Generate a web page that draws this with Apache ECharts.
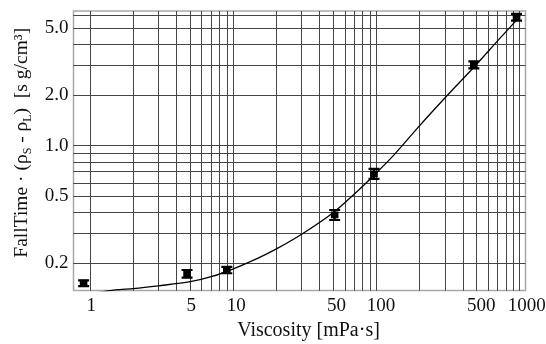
<!DOCTYPE html>
<html>
<head>
<meta charset="utf-8">
<script src="https://cdn.jsdelivr.net/npm/echarts@6/dist/echarts.min.js"></script>
<style>
html,body{margin:0;padding:0;background:#fff;}
#chart{width:546px;height:344px;}
</style>
</head>
<body>
<div id="chart"></div>
<script>
// Measured data (viscosity in mPa·s, fall time · density difference in s g/cm³)
const viscosity = [0.9, 4.75, 9.0, 51, 96, 478, 950];
const fallTime  = [0.152, 0.1726, 0.182, 0.387, 0.679, 3.02, 5.8];
const errLow    = [0.146, 0.164, 0.174, 0.361, 0.634, 2.88, 5.54];
const errHigh   = [0.158, 0.182, 0.190, 0.414, 0.727, 3.17, 6.07];

// Fitted curve
const fitX = [1.0, 1.5, 2, 3, 5, 7, 10, 15, 20, 30, 50, 70, 100, 134, 200, 300, 500, 700, 1000];
const fitY = [0.131, 0.1385, 0.141, 0.1465, 0.155, 0.166, 0.185, 0.215, 0.243, 0.297, 0.40, 0.515, 0.69, 0.89, 1.315, 1.92, 3.05, 4.2, 5.85];

// Axis ticks / grid
const xGridValues = [1,2,3,4,5,6,7,8,9,10,20,30,40,50,60,70,80,90,100,200,300,400,500,600,700,800,900,1000];
const xLabelValues = [1, 5, 10, 50, 100, 500, 1000];
const yGridValues = [0.2,0.3,0.4,0.5,0.6,0.7,0.8,0.9,1,2,3,4,5,6];
const yLabelValues = [0.2, 0.5, 1, 2, 5];

const FONT = '"Liberation Serif", "DejaVu Serif", serif';

const chart = echarts.init(document.getElementById('chart'), null, {renderer: 'canvas'});

const errData = viscosity.map((v, i) => [v, fallTime[i], errLow[i], errHigh[i]]);
const fitData = fitX.map((v, i) => [v, fitY[i]]);

const labStyle = {fontFamily: FONT, fontSize: 19, color: '#111'};

chart.setOption({
  animation: false,
  backgroundColor: '#fff',
  grid: {
    left: 73.5, right: 20.5, top: 11, bottom: 53.5,
    containLabel: false,
    outerBoundsMode: 'none',
    show: true,
    borderColor: '#a8a8a8',
    borderWidth: 1.5,
    backgroundColor: 'transparent'
  },
  xAxis: {
    type: 'log',
    logBase: 10,
    min: 0.765,
    max: 1097,
    name: 'Viscosity [mPa·s]',
    nameLocation: 'middle',
    nameGap: 27,
    nameTextStyle: {fontFamily: FONT, fontSize: 20, color: '#111', padding: [0, 0, 0, 18], verticalAlign: 'top'},
    axisLine: {show: false},
    axisTick: {show: true, inside: true, length: 4, customValues: xGridValues, lineStyle: {color: '#444'}},
    axisLabel: {
      customValues: xLabelValues,
      fontFamily: FONT, fontSize: 19, color: '#111', margin: 6,
      formatter: v => {
        const s = String(Math.round(v));
        return '{w' + s.length + '|' + s + '}';
      },
      rich: {
        w1: Object.assign({padding: [0, 0, 0, 2]}, labStyle),
        w2: Object.assign({padding: [0, 0, 0, 6]}, labStyle),
        w3: Object.assign({padding: [0, 0, 0, 9]}, labStyle),
        w4: Object.assign({padding: [0, 0, 0, 14]}, labStyle)
      }
    },
    splitLine: {show: true, lineStyle: {color: '#454545', width: 1}},
    minorTick: {show: false},
    minorSplitLine: {show: false}
  },
  yAxis: {
    type: 'log',
    logBase: 10,
    min: 0.1374,
    max: 6.32,
    name: '{a|FallTime · (ρ}{sub|S}{a| - ρ}{sub|L}{a|)  [s g/cm³]}',
    nameLocation: 'middle',
    nameRotate: 90,
    nameGap: 40,
    nameTextStyle: {
      fontFamily: FONT, fontSize: 19.5, color: '#111',
      padding: [0, 0, 0, 16],
      rich: {
        a: {fontFamily: FONT, fontSize: 19.5, color: '#111', lineHeight: 23},
        sub: {fontFamily: FONT, fontSize: 12, color: '#111', lineHeight: 10, verticalAlign: 'bottom'}
      }
    },
    axisLine: {show: false},
    axisTick: {show: true, inside: true, length: 4, customValues: yGridValues, lineStyle: {color: '#444'}},
    axisLabel: {
      customValues: yLabelValues,
      fontFamily: FONT, fontSize: 19, color: '#111', margin: 5,
      formatter: v => Number(v).toFixed(1)
    },
    splitLine: {show: true, lineStyle: {color: '#454545', width: 1}}
  },
  series: [
    {
      type: 'line',
      data: fitData,
      smooth: 0.3,
      showSymbol: false,
      symbol: 'none',
      clip: true,
      lineStyle: {color: '#000', width: 1.3},
      z: 3
    },
    {
      type: 'custom',
      data: errData,
      clip: true,
      z: 4,
      renderItem: function (params, api) {
        const x = api.value(0);
        const p = api.coord([x, api.value(1)]);
        const pl = api.coord([x, api.value(2)]);
        const ph = api.coord([x, api.value(3)]);
        const cap = 5.5;
        const st = {stroke: '#000', lineWidth: 2.2};
        return {
          type: 'group',
          children: [
            {type: 'line', shape: {x1: p[0], y1: pl[1], x2: p[0], y2: ph[1]}, style: st},
            {type: 'line', shape: {x1: p[0] - cap, y1: pl[1], x2: p[0] + cap, y2: pl[1]}, style: st},
            {type: 'line', shape: {x1: p[0] - cap, y1: ph[1], x2: p[0] + cap, y2: ph[1]}, style: st},
            {type: 'rect', shape: {x: p[0] - 3.8, y: p[1] - 3.3, width: 7.6, height: 6.6}, style: {fill: '#000'}}
          ]
        };
      }
    }
  ]
});
</script>
</body>
</html>
